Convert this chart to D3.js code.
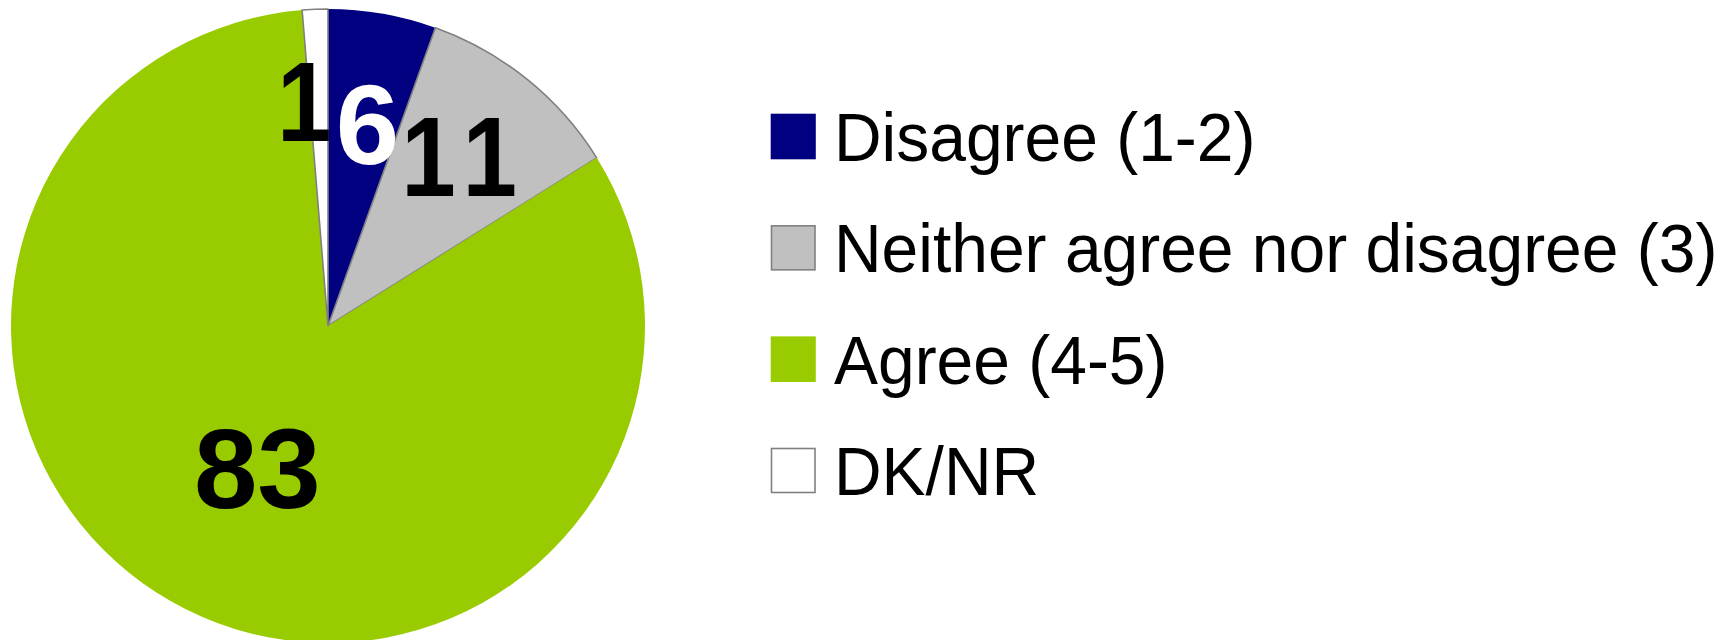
<!DOCTYPE html>
<html>
<head>
<meta charset="utf-8">
<script src="https://cdn.jsdelivr.net/npm/d3@7"></script>
<style>
  html, body { margin: 0; padding: 0; background: #fff; }
  svg { display: block; }
</style>
</head>
<body>
<svg id="chart" width="1732" height="640"></svg>
<script>
// ---- data ----
const categories = ["Disagree (1-2)", "Neither agree nor disagree (3)", "Agree (4-5)", "DK/NR"];
const values = [5.5, 10.6, 82.6, 1.3];
const valueLabels = ["6", "11", "83", "1"];

// ---- styles / layout ----
const colors = ["#000080", "#C0C0C0", "#99CC00", "#FFFFFF"];
const strokes = [null, "#808080", null, "#808080"];
const labelColors = ["#FFFFFF", "#000000", "#000000", "#000000"];
const labelRadiusFrac = [0.651, 0.68, 0.499, 0.715];
const labelAngleNudgeDeg = [1.1, -1.4, -0.1, -3.7];
const labelScaleX = [1, 0.86, 1, 0.86];
const labelSpacing = [0, 14, 0, 0];

const svg = d3.select("#chart");
const cx = 328, cy = 326, R = 317;

const pie = d3.pie().sort(null).value(d => d).startAngle(0).endAngle(2 * Math.PI);
const arcs = pie(values);
const arc = d3.arc().innerRadius(0).outerRadius(R);

const g = svg.append("g").attr("transform", `translate(${cx},${cy})`);

g.selectAll("path.slice")
  .data(arcs)
  .join("path")
  .attr("class", "slice")
  .attr("d", arc)
  .attr("fill", (d, i) => colors[i])
  .attr("stroke", (d, i) => strokes[i] || "none")
  .attr("stroke-width", 1.6)
  .attr("stroke-linejoin", "round");

// labels
const fontSize = 114;
function labelPos(d, i) {
  const a = (d.startAngle + d.endAngle) / 2 + labelAngleNudgeDeg[i] * Math.PI / 180;
  return [labelRadiusFrac[i] * R * Math.sin(a), -labelRadiusFrac[i] * R * Math.cos(a) + fontSize * 0.358];
}
g.selectAll("text.vlabel")
  .data(arcs)
  .join("text")
  .attr("class", "vlabel")
  .attr("transform", (d, i) => {
    const p = labelPos(d, i);
    return `translate(${p[0]},${p[1]}) scale(${labelScaleX[i]},1)`;
  })
  .attr("dx", (d, i) => labelSpacing[i] / 2)
  .attr("letter-spacing", (d, i) => labelSpacing[i])
  .attr("text-anchor", "middle")
  .attr("font-family", "'Liberation Sans', Arial, sans-serif")
  .attr("font-weight", "bold")
  .attr("font-size", fontSize)
  .attr("fill", (d, i) => labelColors[i])
  .text((d, i) => valueLabels[i]);

// legend
const legendY = d3.scalePoint().domain(categories).range([114, 448]);
const legend = svg.append("g");
const items = legend.selectAll("g.item")
  .data(categories)
  .join("g")
  .attr("class", "item")
  .attr("transform", d => `translate(771,${legendY(d)})`);

items.append("rect")
  .attr("x", 0.5).attr("y", 0.5)
  .attr("width", 43.5).attr("height", 44)
  .attr("fill", (d, i) => colors[i])
  .attr("stroke", (d, i) => strokes[i] || colors[i])
  .attr("stroke-width", 1.6);

items.append("text")
  .attr("transform", "translate(63,47) scale(0.97,1)")
  .attr("font-family", "'Liberation Sans', Arial, sans-serif")
  .attr("font-size", 68)
  .attr("fill", "#000")
  .text(d => d);
</script>
</body>
</html>
